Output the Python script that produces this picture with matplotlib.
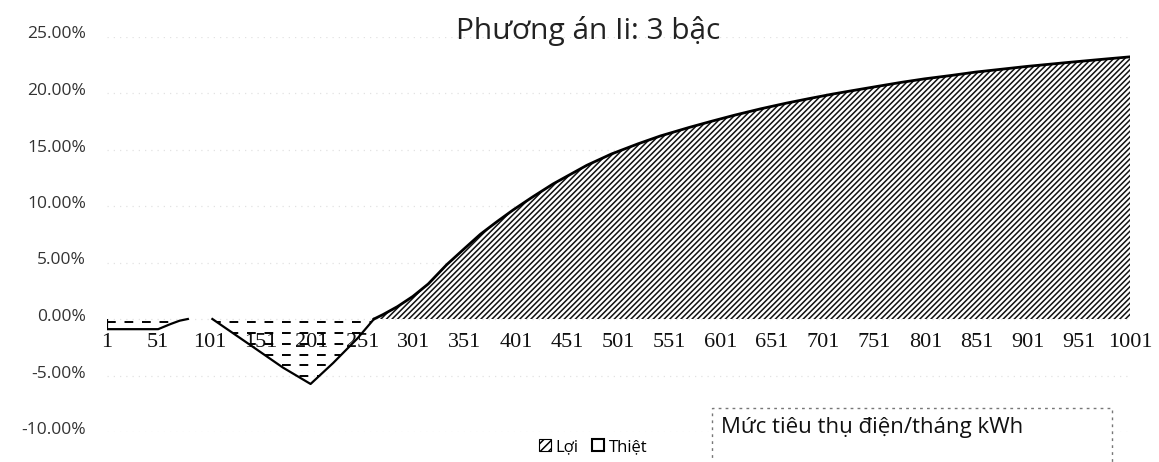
import matplotlib
matplotlib.use("Agg")
import matplotlib.pyplot as plt
import matplotlib.patches as mpatches
import matplotlib.transforms as mtransforms
import numpy as np

# ---------------- data ----------------
title = "Phương án Ii: 3 bậc"
x_label_box = "Mức tiêu thụ điện/tháng kWh"
series_names = ["Lợi", "Thiệt"]

# "Lợi" (gain) series, % values at kWh levels
loi_kwh = [262, 271, 285, 300, 315, 333, 350, 366, 382, 398, 417, 437, 470,
           494, 520, 542, 570, 592, 615, 640, 665, 687, 710, 729, 755, 778,
           800, 826, 850, 875, 900, 940, 970, 1001]
loi_pct = [0.0, 0.4, 1.1, 2.0, 3.1, 4.8, 6.2, 7.5, 8.6, 9.65, 10.8, 11.95,
           13.6, 14.6, 15.5, 16.2, 16.95, 17.5, 18.05, 18.6, 19.1, 19.5,
           19.9, 20.2, 20.6, 20.95, 21.25, 21.55, 21.85, 22.1, 22.35, 22.7,
           22.95, 23.2]

# "Thiệt" (loss) series, % values at kWh levels
thiet_kwh = [1, 51, 63, 72, 80, 104, 141, 173, 200, 222, 246, 262, 1001]
thiet_pct = [-0.9, -0.9, -0.45, -0.15, 0.0, 0.0, -2.3, -4.3, -5.75, -3.9,
             -1.7, 0.0, 0.0]

x_ticks = list(range(1, 1002, 50))
y_ticks = [-10, -5, 0, 5, 10, 15, 20, 25]
y_tick_labels = [f"{v:.2f}%" for v in y_ticks]

# ---------------- figure ----------------
W, H = 1159, 462
plt.rcParams["hatch.linewidth"] = 1.1
fig = plt.figure(figsize=(W / 100, H / 100), dpi=100)
fig.patch.set_facecolor("white")
ax = fig.add_axes([107 / W, (H - 432) / H, (1130 - 107) / W, (432 - 36.5) / H])
ax.set_xlim(1, 1001)
ax.set_ylim(-10, 25)

# gridlines (faint, dotted as in the scan)
ax.set_yticks(y_ticks)
ax.yaxis.grid(True, color="#e2e2e2", linestyle=(0, (1, 4)), linewidth=0.9)
ax.set_axisbelow(True)

# Lợi area: dense diagonal hatch + thick outline along top
ax.fill_between(loi_kwh, loi_pct, 0, facecolor="white", edgecolor="#111111",
                hatch="//////", linewidth=0, zorder=2)
ax.plot(loi_kwh, loi_pct, color="black", linewidth=2.0, zorder=3)

# Thiệt area: dashed horizontal hatch clipped to the area + solid outline
poly = ax.fill_between(thiet_kwh, thiet_pct, 0, facecolor="none",
                       edgecolor="none", linewidth=0, zorder=2)
clip_path = poly.get_paths()[0]
for yl in np.arange(-0.3, -10, -0.95):
    ln = ax.axhline(yl, color="black", linewidth=1.4,
                    linestyle=(0, (4.5, 4.5)), zorder=3)
    ln.set_clip_path(clip_path, ax.transData)
ax.plot(thiet_kwh[:5], thiet_pct[:5], color="black", linewidth=1.6, zorder=3)
ax.plot(thiet_kwh[5:12], thiet_pct[5:12], color="black", linewidth=1.6, zorder=3)
ax.vlines(thiet_kwh[0], thiet_pct[0], 0, color="black", linewidth=1.6, zorder=3)

# axes styling
for s in ax.spines.values():
    s.set_visible(False)
ax.spines["bottom"].set_position(("data", 0))
ax.set_xticks(x_ticks)
ax.set_xticklabels([str(v) for v in x_ticks], family="Liberation Serif",
                   fontsize=16, color="#111111")
ax.set_yticklabels(y_tick_labels, family="Open Sans", fontsize=12.5,
                   color="#333333")
ax.tick_params(axis="x", length=0, pad=10)
ax.tick_params(axis="y", length=0, pad=15)
off = mtransforms.ScaledTranslation(0, 4 / 100, fig.dpi_scale_trans)
for lab in ax.get_yticklabels():
    lab.set_transform(lab.get_transform() + off)

# title
fig.text(588 / W, 1 - 31 / H, title, ha="center", va="center",
         family="Open Sans", fontsize=21.5, color="#222222")

# legend
handles = [mpatches.Patch(facecolor="white", edgecolor="black", hatch="////",
                          linewidth=0.8),
           mpatches.Patch(facecolor="white", edgecolor="black", linewidth=1.5)]
fig.legend(handles, series_names, loc="center",
           bbox_to_anchor=(593 / W, 1 - 447 / H), ncol=2, frameon=False,
           handlelength=0.7, handleheight=0.7, handletextpad=0.3,
           columnspacing=0.8, prop={"family": "Open Sans", "size": 12})

# axis-title box
box = mpatches.Rectangle((712 / W, -0.05), (1112 - 712) / W, (54 + 23) / H,
                         transform=fig.transFigure, facecolor="white",
                         edgecolor="#777777", linewidth=1.0,
                         linestyle=(0, (2, 3)), zorder=5)
fig.add_artist(box)
fig.text(721 / W, 1 - 427 / H, x_label_box, ha="left", va="center",
         family="Open Sans", fontsize=16, color="#111111", zorder=6)

fig.savefig("out.png", dpi=100, facecolor="white")
